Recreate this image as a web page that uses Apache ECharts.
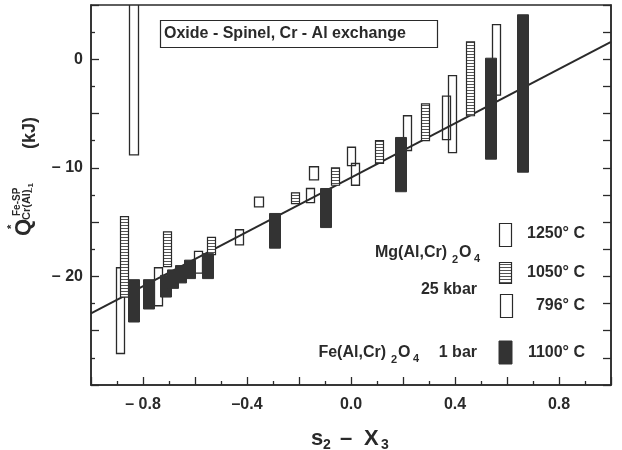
<!DOCTYPE html>
<html>
<head>
<meta charset="utf-8">
<script src="https://cdn.jsdelivr.net/npm/echarts@6/dist/echarts.min.js"></script>
<style>
html, body { margin: 0; padding: 0; background: #fff; }
#chart { width: 622px; height: 450px; }
</style>
</head>
<body>
<div id="chart"></div>
<script>
// each entry: [s2 - X3, low Q*, high Q*]
var mg1250 = [
    [-0.89, -27.1, -19.2], [-0.742, -22.7, -19.2], [-0.588, -19.7, -17.7],
    [-0.43, -17.1, -15.7], [-0.157, -13.2, -11.9], [0.0, -9.8, -8.1],
    [0.015, -11.6, -9.6], [0.215, -8.4, -5.2], [0.365, -7.4, -3.4],
    [0.388, -8.6, -1.5], [0.558, -3.3, 3.2]
];
var mg1050 = [
    [-0.873, -21.9, -14.5], [-0.708, -19.1, -15.9], [-0.54, -18.0, -16.4],
    [-0.215, -13.3, -12.3], [-0.062, -11.6, -10.0], [0.108, -9.6, -7.5],
    [0.285, -7.5, -4.1], [0.458, -5.2, 1.6]
];
var mg796 = [
    [-0.835, -8.8, 6.0], [-0.354, -13.6, -12.7], [-0.146, -11.1, -9.9]
];
var fe1100 = [
    [-0.838, -24.2, -20.3], [-0.78, -23.0, -20.3], [-0.715, -21.9, -19.9],
    [-0.685, -21.1, -19.4], [-0.654, -20.6, -19.0], [-0.62, -20.2, -18.5],
    [-0.553, -20.2, -17.9], [-0.296, -17.4, -14.2], [-0.1, -15.5, -11.9],
    [0.192, -12.2, -7.2], [0.538, -9.2, 0.1], [0.658, -10.4, 4.1]
];
var fitX = [-1.0, 1.0];
var fitY = [-23.4, 1.6];
var xTickText = {'-8': '\u2013 0.8', '-4': '\u20130.4', '0': '0.0', '4': '0.4', '8': '0.8'};
var yTickText = {'0': '0', '-10': '\u2013 10', '-20': '\u2013 20'};

var FONT = '"Liberation Sans", Arial, Helvetica, sans-serif';
var INK = '#2a2a2a';

var hatch = document.createElement('canvas');
hatch.width = 4; hatch.height = 3;
var hctx = hatch.getContext('2d');
hctx.fillStyle = '#fff'; hctx.fillRect(0, 0, 4, 3);
hctx.fillStyle = '#555'; hctx.fillRect(0, 0, 4, 1);

function bars(w, style) {
    return function (params, api) {
        var x = api.value(0);
        var top = api.coord([x, api.value(2)]);
        var bot = api.coord([x, api.value(1)]);
        return {
            type: 'rect',
            shape: {x: Math.round(top[0] - w / 2) + 0.5, y: top[1], width: w, height: bot[1] - top[1]},
            style: style
        };
    };
}

function txt(s, x, y, size, align, rot) {
    return {
        type: 'text', x: x, y: y, rotation: rot || 0, z: 100,
        style: {text: s, font: 'bold ' + size + 'px ' + FONT, fill: INK,
                textAlign: align || 'left', textVerticalAlign: 'middle'}
    };
}

var R = Math.PI / 2;
var graphics = [
    // title box
    {type: 'rect', z: 100, shape: {x: 160.5, y: 20.5, width: 277, height: 27},
     style: {fill: '#fff', stroke: INK, lineWidth: 1.2}},
    txt('Oxide - Spinel, Cr - Al exchange', 164, 34, 16),
    // y axis title
    txt('Q', 24, 236, 22, 'left', R),
    txt('*', 12, 229, 11, 'left', R),
    txt('Fe-SP', 17, 216, 10, 'left', R),
    txt('Cr(Al)', 27, 220, 11, 'left', R),
    txt('\u20131', 31, 192, 8, 'left', R),
    txt('(kJ)', 30, 149, 18, 'left', R),
    // x axis title
    txt('s', 311, 439, 22),
    txt('2', 323, 445, 14),
    txt('\u2013', 340, 439, 22),
    txt('X', 364, 439, 22),
    txt('3', 381, 445, 14),
    // legend swatches
    {type: 'rect', z: 100, shape: {x: 499.5, y: 223.5, width: 12, height: 23},
     style: {fill: '#fff', stroke: INK, lineWidth: 1.2}},
    {type: 'rect', z: 100, shape: {x: 499.5, y: 262.5, width: 12, height: 21},
     style: {fill: {image: hatch, repeat: 'repeat'}, stroke: INK, lineWidth: 1.2}},
    {type: 'rect', z: 100, shape: {x: 500.5, y: 294.5, width: 12, height: 23},
     style: {fill: '#fff', stroke: INK, lineWidth: 1.2}},
    {type: 'rect', z: 100, shape: {x: 499, y: 341, width: 13, height: 23},
     style: {fill: '#333', stroke: '#333', lineWidth: 1}},
    // legend texts
    txt('1250\u00b0 C', 585, 234, 16, 'right'),
    txt('1050\u00b0 C', 585, 273, 16, 'right'),
    txt('796\u00b0 C', 585, 306, 16, 'right'),
    txt('1100\u00b0 C', 585, 353, 16, 'right'),
    txt('Mg(Al,Cr)', 447, 253, 16, 'right'),
    txt('2', 452, 260, 11),
    txt('O', 459, 253, 16),
    txt('4', 474, 259, 11),
    txt('25 kbar', 477, 290, 16, 'right'),
    txt('Fe(Al,Cr)', 386, 353, 16, 'right'),
    txt('2', 391, 360, 11),
    txt('O', 398, 353, 16),
    txt('4', 413, 359, 11),
    txt('1 bar', 477, 353, 16, 'right')
];

var myChart = echarts.init(document.getElementById('chart'));

var tickLine = {color: INK, width: 1.3};
var option = {
    animation: false,
    backgroundColor: '#fff',
    grid: {
        left: 91, right: 11, top: 5, bottom: 65,
        show: true, borderColor: INK, borderWidth: 1.5
    },
    xAxis: [{
        type: 'value', min: -1, max: 1, interval: 0.2,
        axisLine: {show: true, onZero: false, lineStyle: {color: INK, width: 1.5}},
        axisTick: {show: true, inside: true, length: 8, lineStyle: tickLine},
        minorTick: {show: true, splitNumber: 2, length: 4, lineStyle: tickLine},
        splitLine: {show: false},
        axisLabel: {
            margin: 12, color: INK, fontSize: 16, fontWeight: 'bold', fontFamily: FONT,
            formatter: function (v) {
                var k = String(Math.round(v * 10));
                return xTickText[k] || '';
            }
        }
    }],
    yAxis: [{
        type: 'value', min: -30, max: 5, interval: 5,
        axisLine: {show: true, onZero: false, lineStyle: {color: INK, width: 1.5}},
        axisTick: {show: true, inside: true, length: 8, lineStyle: tickLine},
        minorTick: {show: true, splitNumber: 2, length: 4, lineStyle: tickLine},
        splitLine: {show: false},
        axisLabel: {
            margin: 8, color: INK, fontSize: 16, fontWeight: 'bold', fontFamily: FONT,
            formatter: function (v) {
                return yTickText[String(Math.round(v))] || '';
            }
        }
    }, {
        type: 'value', min: -30, max: 5, interval: 5, position: 'right',
        axisLine: {show: true, onZero: false, lineStyle: {color: INK, width: 1.5}},
        axisTick: {show: true, inside: true, length: 8, lineStyle: tickLine},
        minorTick: {show: true, splitNumber: 2, length: 8, lineStyle: tickLine},
        splitLine: {show: false},
        axisLabel: {show: false}
    }],
    series: [{
        type: 'line',
        data: fitX.map(function (x, i) { return [x, fitY[i]]; }),
        symbol: 'none',
        lineStyle: {color: INK, width: 2},
        z: 1
    }, {
        type: 'custom', name: '1250', data: mg1250, clip: true, z: 2,
        encode: {x: 0, y: [1, 2]},
        renderItem: bars(8, {fill: 'rgba(255,255,255,0)', stroke: INK, lineWidth: 1.3})
    }, {
        type: 'custom', name: '796', data: mg796, clip: true, z: 2,
        encode: {x: 0, y: [1, 2]},
        renderItem: bars(9, {fill: 'rgba(255,255,255,0)', stroke: INK, lineWidth: 1.3})
    }, {
        type: 'custom', name: '1050', data: mg1050, clip: true, z: 3,
        encode: {x: 0, y: [1, 2]},
        renderItem: bars(8, {fill: {image: hatch, repeat: 'repeat'}, stroke: INK, lineWidth: 1.2})
    }, {
        type: 'custom', name: '1100', data: fe1100, clip: true, z: 4,
        encode: {x: 0, y: [1, 2]},
        renderItem: bars(11, {fill: '#333', stroke: '#333', lineWidth: 1})
    }],
    graphic: graphics
};
myChart.setOption(option);
</script>
</body>
</html>
